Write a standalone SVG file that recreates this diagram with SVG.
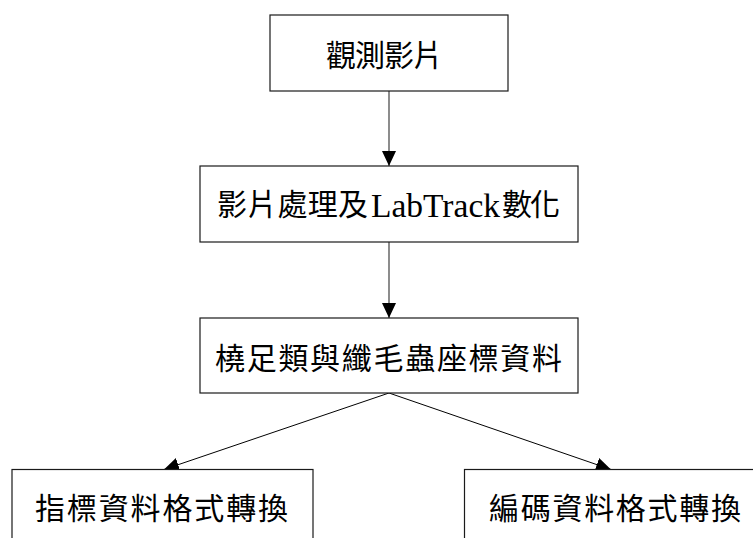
<svg xmlns="http://www.w3.org/2000/svg" width="753" height="538" viewBox="0 0 753 538">
  <style>
    .box { fill: #ffffff; stroke: #1a1a1a; stroke-width: 1.2; }
    .lbl { font-family: "Liberation Serif", "Noto Sans CJK TC", serif; font-size: 30px; fill: #000000; }
    .lat { font-family: "Liberation Serif", serif; font-size: 33px; fill: #000000; }
    .v { stroke: #707070; stroke-width: 1.6; fill: none; }
    .d { stroke: #000000; stroke-width: 1; fill: none; }
  </style>
  <defs>
    <marker id="arrow" markerUnits="userSpaceOnUse" markerWidth="15" markerHeight="14" refX="15" refY="7" orient="auto" viewBox="0 0 15 14">
      <path d="M0,0 L15,7 L0,14 z" fill="#000000"/>
    </marker>
  </defs>
  <rect width="753" height="538" fill="#ffffff"/>
  <g id="connectors">
    <line class="v" x1="389" y1="91" x2="389" y2="166" marker-end="url(#arrow)"/>
    <line class="v" x1="389" y1="242" x2="389" y2="318" marker-end="url(#arrow)"/>
    <line class="d" x1="389" y1="393" x2="164" y2="469.5" marker-end="url(#arrow)"/>
    <line class="d" x1="389" y1="393" x2="611" y2="469.5" marker-end="url(#arrow)"/>
  </g>
  <g id="node-observe">
    <rect class="box" x="270" y="15" width="238" height="76"/>
    <text class="lbl" x="326" y="65.5" textLength="117" lengthAdjust="spacing">觀測影片</text>
  </g>
  <g id="node-process">
    <rect class="box" x="200" y="166" width="378" height="76"/>
    <text class="lbl" x="217" y="215" textLength="151" lengthAdjust="spacing">影片處理及</text>
    <text class="lat" x="371" y="216.5" textLength="129" lengthAdjust="spacingAndGlyphs">LabTrack</text>
    <text class="lbl" x="502" y="215" textLength="58" lengthAdjust="spacing">數化</text>
  </g>
  <g id="node-coords">
    <rect class="box" x="200" y="318" width="378" height="75"/>
    <text class="lbl" x="215" y="369" textLength="347" lengthAdjust="spacing">橈足類與纖毛蟲座標資料</text>
  </g>
  <g id="node-index">
    <rect class="box" x="12" y="469.5" width="301" height="80"/>
    <text class="lbl" x="35" y="519" textLength="253" lengthAdjust="spacing">指標資料格式轉換</text>
  </g>
  <g id="node-code">
    <rect class="box" x="464.5" y="469.5" width="300" height="80"/>
    <text class="lbl" x="489" y="519" textLength="252" lengthAdjust="spacing">編碼資料格式轉換</text>
  </g>
</svg>
